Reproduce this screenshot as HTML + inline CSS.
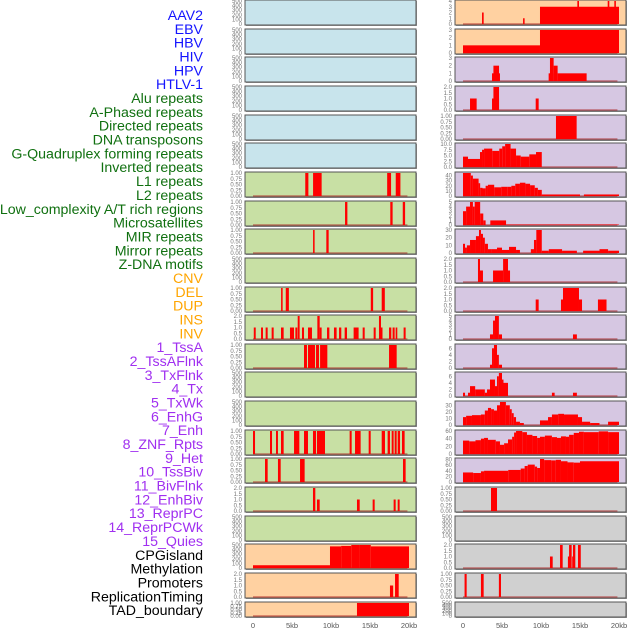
<!DOCTYPE html>
<html><head><meta charset="utf-8">
<style>
html,body{margin:0;padding:0;background:#fff;}
svg{display:block;font-family:"Liberation Sans",sans-serif;}
</style></head>
<body>
<svg id="chart" width="630" height="630" viewBox="0 0 630 630"></svg>
<script>
// ---------- data ----------
const trackLabels = ["AAV2","EBV","HBV","HIV","HPV","HTLV-1","Alu repeats","A-Phased repeats","Directed repeats","DNA transposons","G-Quadruplex forming repeats","Inverted repeats","L1 repeats","L2 repeats","Low_complexity A/T rich regions","Microsatellites","MIR repeats","Mirror repeats","Z-DNA motifs","CNV","DEL","DUP","INS","INV","1_TssA","2_TssAFlnk","3_TxFlnk","4_Tx","5_TxWk","6_EnhG","7_Enh","8_ZNF_Rpts","9_Het","10_TssBiv","11_BivFlnk","12_EnhBiv","13_ReprPC","14_ReprPCWk","15_Quies","CPGisland","Methylation","Promoters","ReplicationTiming","TAD_boundary"];
const labelGroups = [0,0,0,0,0,0,1,1,1,1,1,1,1,1,1,1,1,1,1,2,2,2,2,2,3,3,3,3,3,3,3,3,3,3,3,3,3,3,3,4,4,4,4,4];
const groupColors = ["#1414ff","#107010","#ffa500","#a02ff0","#000000"];
const xTickLabels = ["0","5kb","10kb","15kb","20kb"];
const xTickValues = [0,5,10,15,20];

const ticks500 = ["0","100","200","300","400","500"];
const ticks1 = ["0.00","0.25","0.50","0.75","1.00"];
const ticks2 = ["0.0","0.5","1.0","1.5","2.0"];
const ticks3 = ["0","1","2","3"];
const ticks4 = ["0","1","2","3","4"];
const ticks5 = ["0","1","2","3","4","5"];
const ticks6 = ["0","2","4","6"];
const ticks10 = ["0.0","2.5","5.0","7.5","10.0"];
const ticks30 = ["0","10","20","30"];
const ticks40 = ["0","10","20","30","40"];
const ticks60 = ["0","20","40","60"];
const ticks80 = ["0","20","40","60","80"];

// segments: [startKb, endKb, value]
const L6 = [[6.7,7.1,1],[7.7,8.8,1],[17.2,17.7,1],[18.3,18.9,1]];
const L7 = [[11.8,12.1,1],[17.6,17.9,1],[19.2,19.5,1]];
const L8 = [[7.7,7.9,1],[9.4,9.7,1]];
const L10 = [[3.6,3.8,1],[4.2,4.6,1],[15.1,15.4,1],[16.5,16.9,1]];
const L11 = [[0.1,0.35,1],[1.03,1.28,1],[1.62,1.88,1],[2.39,2.65,1],[3.59,3.93,1],[4.74,5.26,1],[5.43,5.68,1],[5.73,5.98,2],[6.28,6.54,1],[7.05,7.56,1],[8.25,8.55,2],[8.55,8.8,1],[9.49,9.79,1],[10.38,10.72,1],[11.03,11.32,1],[11.75,12.05,1],[12.9,13.54,1],[14.06,14.32,1],[15.47,15.73,1],[16.15,16.41,2],[16.41,16.54,1],[17.44,17.73,1],[17.9,18.16,1],[18.29,18.5,1],[19.31,19.57,1]];
const L12 = [[6.54,6.92,1],[7.05,7.95,1],[8.08,8.46,1],[8.6,9.53,1],[17.44,18.42,1]];
const L15 = [[0,0.26,1],[2.18,2.44,1],[2.95,3.2,1],[3.59,3.93,1],[5.26,5.94,1],[6.54,7.05,1],[7.69,8.08,1],[8.2,9.23,1],[12.39,12.65,1],[13.08,13.8,1],[14.83,15.09,1],[16.5,16.92,1],[17.26,17.56,1],[17.78,18.03,1],[18.16,18.42,1],[18.55,18.85,1],[19.1,19.44,1]];
const L16 = [[1.54,1.88,1],[3.2,3.55,1],[6.03,6.62,1],[19.23,19.57,1]];
const L17 = [[7.69,7.99,2],[8.2,8.55,1],[13.33,13.68,1],[15.34,15.6,1],[18.03,18.29,1],[18.55,18.8,1]];
const L19 = [[0,9.87,60],[9.87,11.3,470],[11.3,12.6,480],[12.6,13.6,500],[13.6,15.1,505],[15.1,20,470]];
const L20 = [[17.56,17.97,1],[18.21,18.68,2]];
const L21 = [[13.33,20,1]];

const R0 = [[2.44,2.65,2],[7.7,7.9,1],[9.87,20,3],[14.66,14.87,4],[18.55,18.76,4],[19.4,19.6,4]];
const R1 = [[0,9.87,1],[9.87,20,3]];
const R2 = [[3.72,4.74,1],[3.9,4.62,2],[10.98,11.62,1],[11.15,11.62,3],[11.62,12.13,2],[12.13,15.85,1]];
const R3 = [[0.9,1.75,1],[3.72,4.62,1],[3.9,4.62,2],[9.32,9.7,1]];
const R4 = [[11.92,14.57,1]];
const R5 = [[0,0.64,4.5],[0.64,2.18,3.5],[2.18,2.44,6.5],[2.44,2.7,7.5],[2.7,3.75,8],[3.75,4.65,7],[4.65,5.03,8],[5.03,5.4,9],[5.4,6.1,10],[6.1,6.8,8],[6.8,7.4,5],[7.4,8.5,4.5],[8.5,9.36,5.5],[9.36,10.1,6.5]];
const R6 = [[0,1.0,45],[1.0,1.27,40],[1.27,2.0,34],[2.0,2.2,25],[2.2,2.5,16],[2.5,2.9,15],[2.9,3.2,20],[3.2,4.0,22],[4.0,4.9,17],[4.9,5.67,18],[5.67,6.2,18],[6.2,6.7,20],[6.7,7.3,24],[7.3,8.0,26],[8.0,8.6,24],[8.6,9.2,21],[9.2,9.6,16],[9.6,10.1,12],[10.1,15.0,3],[15.5,20,3]];
const R7 = [[0,0.4,3],[0.4,0.9,4],[0.9,1.27,5],[1.27,1.5,4],[1.5,2.2,5],[2.2,2.6,2.5],[2.6,2.9,1],[3.5,5.52,1],[5.52,20,0.1]];
const R8 = [[0,0.26,12],[0.26,0.5,7],[0.5,0.9,10],[0.9,1.66,17],[1.66,2.05,22],[2.05,2.3,30],[2.3,2.56,25],[2.56,2.8,20],[2.8,3.2,12],[3.2,3.6,5],[3.6,4.36,5],[4.36,5.0,7],[5.0,5.9,4],[5.9,6.8,8],[6.8,7.3,4],[8.7,9.1,5],[9.1,9.4,17],[9.4,10.1,30],[10.1,11.0,3],[11.0,12.7,5],[12.7,14.6,3],[15.4,17.5,3],[17.5,18.6,5],[18.6,20,3]];
const R9 = [[1.92,2.18,2],[2.18,2.56,1],[3.85,5.14,1],[5.14,5.77,2],[5.77,6.03,1]];
const R10 = [[9.32,9.7,1],[12.56,12.82,1],[12.82,14.87,2],[14.87,15.26,1],[17.3,18.4,1]];
const R11 = [[3.46,3.85,1],[3.85,4.1,4],[4.1,4.6,5],[4.6,5.0,1],[14.1,14.6,1]];
const R12 = [[3.46,3.72,1],[3.72,3.97,6],[3.97,4.36,7],[4.36,4.6,4],[4.6,5.0,1]];
const R13 = [[0,0.26,1],[0.64,0.9,1],[0.9,1.56,3],[1.56,2.8,2],[2.8,3.08,1],[3.08,3.46,2],[3.46,4.1,5],[4.1,4.36,3],[4.36,4.6,6],[4.6,5.0,7],[5.0,5.14,5],[5.14,5.77,4],[11.4,11.75,1],[14.1,14.6,1]];
const R14 = [[0,0.4,12],[0.4,1.15,14],[1.15,2.3,15],[2.3,2.8,16],[2.8,3.2,22],[3.2,3.6,26],[3.6,3.97,24],[3.97,4.36,22],[4.36,4.74,30],[4.74,5.5,35],[5.5,6.0,30],[6.0,6.25,24],[6.25,6.5,18],[6.5,6.8,12],[6.8,7.3,5],[7.3,7.8,3],[9.87,10.9,7],[10.9,11.4,12],[11.4,12.2,16],[12.2,12.95,17],[12.95,14.74,16],[14.74,15.26,12],[15.26,16.3,5],[16.3,17.5,3],[18.6,20,5]];
const R15 = [[0,0.8,35],[0.8,1.6,33],[1.6,2.3,36],[2.3,2.7,40],[2.7,3.2,42],[3.2,4.2,37],[4.2,4.74,33],[4.74,5.27,24],[5.27,5.77,28],[5.77,6.3,38],[6.3,6.55,45],[6.55,6.8,56],[6.8,7.6,60],[7.6,8.2,57],[8.2,8.9,50],[8.9,9.5,47],[9.5,9.87,42],[9.87,10.5,45],[10.5,11.4,48],[11.4,12.05,44],[12.05,12.56,42],[12.56,13.2,46],[13.2,13.6,45],[13.6,14.2,50],[14.2,14.87,55],[14.87,15.5,58],[15.5,17.4,57],[17.4,18.6,59],[18.6,20,57]];
const R16 = [[0,1.3,34],[1.3,2.3,32],[2.3,2.7,38],[2.7,5.8,40],[5.8,7.4,43],[7.4,7.9,48],[7.9,8.3,57],[8.3,9.2,62],[9.2,9.5,55],[9.5,9.87,50],[9.87,10.4,82],[10.4,11.3,78],[11.3,11.9,77],[11.9,12.56,79],[12.56,13.4,74],[13.4,14.2,70],[14.2,15.0,69],[15.0,20,74]];
const R17 = [[3.59,4.36,1]];
const R19 = [[11.15,11.5,1],[12.44,12.78,2],[13.45,13.6,1],[13.6,13.93,2],[14.0,14.1,1],[14.1,14.4,2],[14.74,15.1,2]];
const R20 = [[0.2,0.47,1],[2.3,2.65,1],[4.6,4.87,1]];
const EMPTY = [];

const BLUE="#c8e4ec", GREEN="#c8e0a4", ORANGE="#ffd1a1", PURPLE="#d6c7e2", GRAY="#d0d0d0";

// panel rows: [data, yMax, ticks, background]
const leftPanels = [
 [EMPTY,500,ticks500,BLUE],[EMPTY,500,ticks500,BLUE],[EMPTY,500,ticks500,BLUE],[EMPTY,500,ticks500,BLUE],[EMPTY,500,ticks500,BLUE],[EMPTY,500,ticks500,BLUE],
 [L6,1,ticks1,GREEN],[L7,1,ticks1,GREEN],[L8,1,ticks1,GREEN],[EMPTY,500,ticks500,GREEN],[L10,1,ticks1,GREEN],[L11,2,ticks2,GREEN],
 [L12,1,ticks1,GREEN],[EMPTY,500,ticks500,GREEN],[EMPTY,500,ticks500,GREEN],[L15,1,ticks1,GREEN],[L16,1,ticks1,GREEN],[L17,2,ticks2,GREEN],
 [EMPTY,500,ticks500,GREEN],[L19,500,ticks500,ORANGE],[L20,2,ticks2,ORANGE],[L21,1,ticks1,ORANGE]
];
const rightPanels = [
 [R0,4,ticks4,ORANGE],[R1,3,ticks3,ORANGE],[R2,3,ticks3,PURPLE],[R3,2,ticks2,PURPLE],[R4,1,ticks1,PURPLE],[R5,10,ticks10,PURPLE],
 [R6,45,ticks40,PURPLE],[R7,5,ticks5,PURPLE],[R8,30,ticks30,PURPLE],[R9,2,ticks2,PURPLE],[R10,2,ticks2,PURPLE],[R11,5,ticks5,PURPLE],
 [R12,7,ticks6,PURPLE],[R13,7,ticks6,PURPLE],[R14,35,ticks30,PURPLE],[R15,60,ticks60,PURPLE],[R16,82,ticks80,PURPLE],[R17,1,ticks1,GRAY],
 [EMPTY,500,ticks500,GRAY],[R19,2,ticks2,GRAY],[R20,1,ticks1,GRAY],[EMPTY,500,ticks500,GRAY]
];

// ---------- drawing ----------
const NS="http://www.w3.org/2000/svg";
const svg=document.getElementById('chart');
function mk(tag,attrs,parent){const e=document.createElementNS(NS,tag);for(const k in attrs)e.setAttribute(k,attrs[k]);(parent||svg).appendChild(e);return e;}

const ROW_PITCH=28.65, PANEL_H=25, LAST_H=15;
const cols=[{x0:245,x1:416,d0:253,panels:leftPanels,name:'left'},{x0:455,x1:626,d0:463,panels:rightPanels,name:'right'}];
const KB=7.8;

// labels
trackLabels.forEach((t,i)=>{
  const el=mk('text',{x:203,y:20+i*13.84,'text-anchor':'end','font-size':'14.2',fill:groupColors[labelGroups[i]]});
  el.textContent=t;
  
  
});

cols.forEach(col=>{
  const xs=kb=>col.d0+kb*KB;
  col.panels.forEach((p,i)=>{
    const [data,yMax,ticks,bg]=p;
    const top=Math.round(i*ROW_PITCH);
    const h=(i===col.panels.length-1)?LAST_H:PANEL_H;
    const bottom=top+h;
    const ys=v=>bottom-1-Math.min(v,yMax)/yMax*(h-2);
    const g=mk('g',{});
    
    
    mk('rect',{x:col.x0+1,y:top+1,width:col.x1-col.x0,height:h,fill:'#999'},g);
    mk('rect',{x:col.x0,y:top,width:col.x1-col.x0,height:h,fill:bg,stroke:'#555','stroke-width':1},g);
    if(yMax!==500||data.length){
      mk('line',{x1:xs(0),x2:xs(19.8),y1:bottom-1,y2:bottom-1,stroke:'rgba(170,30,30,0.55)','stroke-width':1.5},g);
    }
    data.forEach(s=>{
      const r=mk('rect',{x:xs(s[0]),y:ys(s[2]),width:Math.max(1.5,xs(s[1])-xs(s[0])),height:bottom-1-ys(s[2]),fill:'#ff0000'},g);
      
      
    });
    ticks.forEach((t,k)=>{
      const v=parseFloat(t);
      const ty=ys(v)+2;
      const te=mk('text',{x:col.x0-3,y:ty,'text-anchor':'end','font-size':'6',fill:'#777'},g);
      te.textContent=t;
      
      
    });
  });
  xTickValues.forEach((v,k)=>{
    const te=mk('text',{x:xs(v),y:628,'text-anchor':'middle','font-size':'7.5',fill:'#555'});
    te.textContent=xTickLabels[k];
    
    
  });
});
</script>
</body></html>
